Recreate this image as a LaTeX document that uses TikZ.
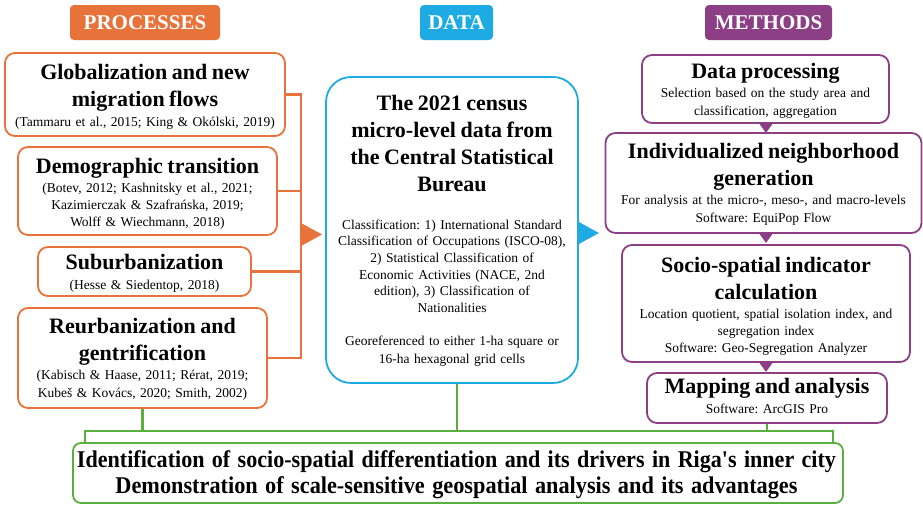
\documentclass[tikz,border=0pt]{standalone}
\usepackage{fontspec}
\setmainfont{Liberation Serif}
\usepackage{graphicx}
\frenchspacing
\definecolor{procC}{HTML}{E8733A}
\definecolor{dataC}{HTML}{1EAAE2}
\definecolor{methC}{HTML}{8D3F85}
\definecolor{resC}{HTML}{5BAF3D}
% line struts: spacing is set by strut height + depth
\newcommand\tstrut{\rule[-8pt]{0pt}{27pt}}
\newcommand\cstrut{\rule[-5.2pt]{0pt}{16.7pt}}
\newcommand\bstrut{\rule[-6pt]{0pt}{25pt}}
\newcommand\tight{\baselineskip=0pt\lineskip=0pt\lineskiplimit=0pt}
\newcommand\ttl[1]{{\fontsize{22}{0}\selectfont\bfseries #1}}
\begin{document}
\begin{tikzpicture}[x=1pt,y=-1pt,
  hdr/.style={rounded corners=4pt, inner sep=0pt, text=white,
    font=\fontsize{21}{24}\selectfont\bfseries, minimum height=35pt},
  card/.style={draw, fill=white, rounded corners=10pt, line width=1.8pt, inner sep=0pt},
  txt/.style={anchor=base, inner sep=0pt, align=center, text width=340pt,
    font=\fontsize{13.5}{0}\selectfont},
  conn/.style={line width=2.2pt},
]
\fill[white] (0,0) rectangle (923,506);
\useasboundingbox (0,0) rectangle (923,506);

% column headers
\node[hdr, fill=procC, minimum width=150pt] (hproc) at (145,22.5) {PROCESSES};
\node[hdr, fill=dataC, minimum width=73pt] (hdata) at (456.5,22.5) {DATA};
\node[hdr, fill=methC, minimum width=127pt] (hmeth) at (768.5,22.5) {METHODS};

% processes
\node[card, draw=procC, minimum width=280pt, minimum height=83pt] (glob) at (145,94.5) {};
\node[card, draw=procC, minimum width=259pt, minimum height=88pt] (demo) at (147.5,191) {};
\node[card, draw=procC, minimum width=213pt, minimum height=49pt] (sub) at (144.5,271.5) {};
\node[card, draw=procC, minimum width=249pt, minimum height=100pt] (reurb) at (142.5,358) {};

\node[txt] (globT) at (145,79) {\tight\ttl{\tstrut Globalization and new\\\tstrut migration flows}\\
  \cstrut(Tammaru et al., 2015; King \& Okólski, 2019)};
\node[txt] (demoT) at (147.5,173) {\tight\ttl{\tstrut Demographic transition}\\
  \cstrut(Botev, 2012; Kashnitsky et al., 2021;\\
  \cstrut Kazimierczak \& Szafrańska, 2019;\\
  \cstrut Wolff \& Wiechmann, 2018)};
\node[txt] (subT) at (144.5,269) {\tight\ttl{\tstrut Suburbanization}\\
  \cstrut(Hesse \& Siedentop, 2018)};
\node[txt] (reurbT) at (142.5,333) {\tight\ttl{\tstrut Reurbanization and\\\tstrut gentrification}\\
  \cstrut(Kabisch \& Haase, 2011; Rérat, 2019;\\
  \cstrut Kubeš \& Kovács, 2020; Smith, 2002)};

% data
\node[card, draw=dataC, rounded corners=25pt, minimum width=252pt, minimum height=306pt] (data) at (452,230) {};
\node[txt] (dataT) at (452,110) {\tight\ttl{\tstrut The 2021 census\\\tstrut micro-level data from\\
  \tstrut the Central Statistical\\\tstrut Bureau}\\[18.5pt]
  \cstrut Classification: 1) International Standard\\
  \cstrut Classification of Occupations (ISCO-08),\\
  \cstrut 2) Statistical Classification of\hspace*{22pt}\\
  \cstrut Economic Activities (NACE, 2nd\\
  \cstrut edition), 3) Classification of\\
  \cstrut Nationalities\\
  \cstrut\\
  \cstrut Georeferenced to either 1-ha square or\\
  \cstrut 16-ha hexagonal grid cells};

% methods
\node[card, draw=methC, minimum width=247pt, minimum height=68pt] (dp) at (765.5,89) {};
\node[card, draw=methC, minimum width=316pt, minimum height=100pt] (ind) at (763.5,183) {};
\node[card, draw=methC, minimum width=288pt, minimum height=117pt] (soc) at (766,303.5) {};
\node[card, draw=methC, minimum width=240pt, minimum height=50pt] (map) at (767,398) {};

\node[txt] (dpT) at (765.5,78) {\tight\ttl{\tstrut Data processing}\\
  \cstrut Selection based on the study area and\\
  \cstrut classification, aggregation};
\node[txt] (indT) at (763.5,158) {\tight\ttl{\tstrut Individualized neighborhood\\\tstrut generation}\\
  \cstrut For analysis at the micro-, meso-, and macro-levels\\
  \cstrut Software: EquiPop Flow};
\node[txt] (socT) at (766,272) {\tight\ttl{\tstrut Socio-spatial indicator\\\tstrut calculation}\\
  \cstrut Location quotient, spatial isolation index, and\\
  \cstrut segregation index\\
  \cstrut Software: Geo-Segregation Analyzer};
\node[txt] (mapT) at (767,393) {\tight\ttl{\tstrut Mapping and analysis}\\
  \cstrut Software: ArcGIS Pro};

% results
\node[card, draw=resC, rounded corners=8pt, minimum width=770pt, minimum height=60pt] (res) at (458,473) {};
\node[anchor=base, inner sep=0pt, align=center, text width=800pt,
  font=\fontsize{24}{0}\selectfont\bfseries] (resT) at (456.5,467) {\tight
  \bstrut\resizebox{759pt}{\height}{Identification of socio-spatial differentiation and its drivers in Riga\textquotesingle s inner city}\\
  \bstrut\resizebox{682pt}{\height}{Demonstration of scale-sensitive geospatial analysis and its advantages}};

% process bus into the data box
\coordinate (obus) at (301,234.5);
\draw[conn, procC] (glob.east) -| (obus |- reurb.east) -- (reurb.east);
\draw[conn, procC] (demo.east) -- (demo.east -| obus);
\draw[conn, procC] (sub.east) -- (sub.east -| obus);
\fill[procC] (obus) ++(0,-11.5) -- ++(21,11.5) -- ++(-21,11.5) -- cycle;

% data into methods
\coordinate (dtip) at ([yshift=-3pt]data.east);
\fill[dataC] (dtip) ++(0,-11) -- ++(20,11) -- ++(-20,11) -- cycle;

% method steps
\coordinate (mx) at (766,0);
\fill[methC] (dp.south -| mx) ++(-6.5,0) -- ++(13,0) -- ++(-6.5,9) -- cycle;
\fill[methC] (ind.south -| mx) ++(-6.5,0) -- ++(13,0) -- ++(-6.5,9) -- cycle;
\fill[methC] (soc.south -| mx) ++(-6.5,0) -- ++(13,0) -- ++(-6.5,9) -- cycle;

% results bracket
\coordinate (gb) at (0,432);
\coordinate (dbot) at ([xshift=5pt]data.south);
\draw[conn, resC] (reurb.south) -- (reurb.south |- gb);
\draw[conn, resC] (dbot) -- (dbot |- gb);
\draw[conn, resC] (map.south) -- (map.south |- gb);
\draw[conn, resC] ([xshift=13pt]res.north west) -- ++(0,-11) -| ([xshift=-11pt]res.north east);
\end{tikzpicture}
\end{document}
